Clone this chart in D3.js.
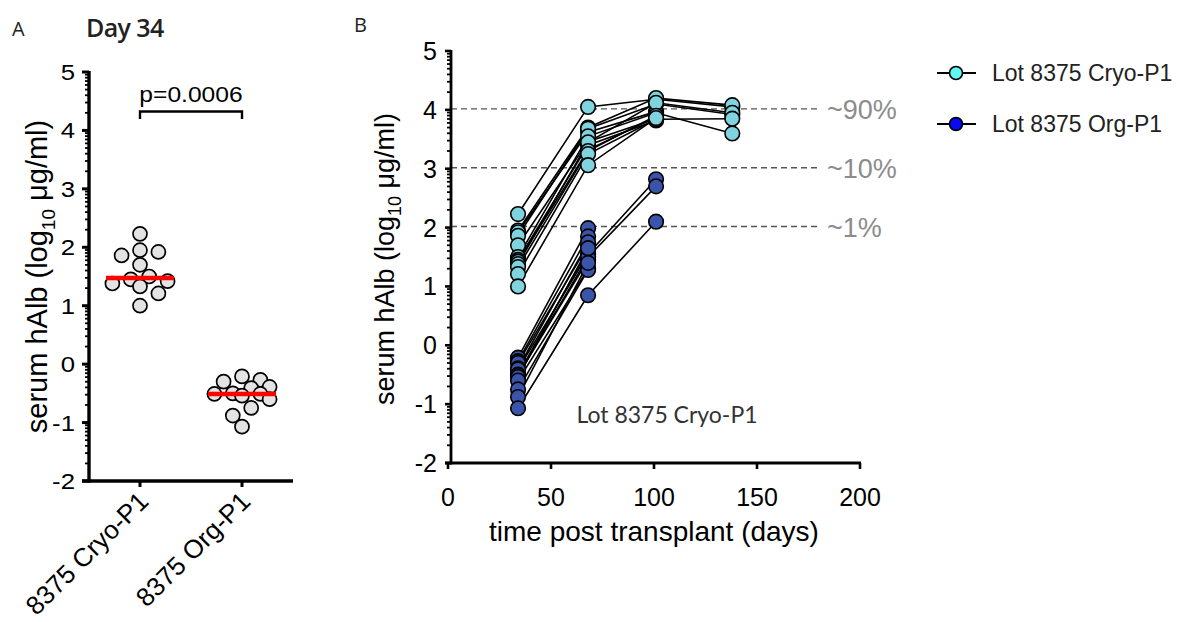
<!DOCTYPE html>
<html><head><meta charset="utf-8">
<script src="https://cdn.jsdelivr.net/npm/d3@7"></script>
<style>body{margin:0;background:#fff}</style>
</head><body><svg id="c" width="1178" height="622"></svg>
<script>
// ---------- data ----------
const groupsA = ["8375 Cryo-P1", "8375 Org-P1"];
const cryoDay34 = [2.23, 1.95, 1.92, 1.86, 1.70, 1.50, 1.45, 1.42, 1.38, 1.33, 1.21, 1.00];
const orgDay34 = [-0.21, -0.27, -0.30, -0.39, -0.41, -0.50, -0.51, -0.51, -0.54, -0.60, -0.75, -0.88, -1.07];
const pLabel = "p=0.0006";
const yTicks = [-2, -1, 0, 1, 2, 3, 4, 5];

const days = [34, 68, 101, 138];
// each row = one mouse, values at days (null = not measured)
const cryoMice = [
  [2.23, 4.05, 4.18, 4.05],
  [1.95, 3.70, 4.20, 4.08],
  [1.92, 3.62, 3.97, null],
  [1.86, 3.68, 4.10, 3.92],
  [1.70, 3.46, 3.85, null],
  [1.50, 3.55, 3.95, 3.60],
  [1.45, 3.40, 3.82, null],
  [1.42, 3.32, 3.88, null],
  [1.38, 3.45, 4.12, 3.95],
  [1.33, 3.30, 3.90, null],
  [1.21, 3.25, 3.84, 3.85],
  [1.00, 3.06, 3.86, null]
];
const orgMice = [
  [-0.21, 1.99, null],
  [-0.27, 1.85, null],
  [-0.30, 1.70, null],
  [-0.39, 1.75, null],
  [-0.41, 1.55, 2.82],
  [-0.50, 1.62, null],
  [-0.51, 1.45, null],
  [-0.51, 1.50, 2.70],
  [-0.54, 1.65, null],
  [-0.60, 1.30, null],
  [-0.75, 1.28, null],
  [-0.88, 1.40, null],
  [-1.07, 0.85, 2.10]
];
const xTicksB = [0, 50, 100, 150, 200];
const thresholds = [4, 3, 2];
const thresholdLabels = ["~90%", "~10%", "~1%"];
const legendLabels = ["Lot 8375 Cryo-P1", "Lot 8375 Org-P1"];

// ---------- drawing ----------
const svg = d3.select("#c");
const ARIAL = "'Liberation Sans', Arial, sans-serif";
const MYR = "'Open Sans', Lato, sans-serif";
const SX = 1.12; // horizontal stretch in panel A

function stretched(g, x, y, txt, size, anchor) {
  return g.append("text").attr("transform", `translate(${x},${y}) scale(${SX},1)`)
    .attr("font-family", ARIAL).attr("font-size", size).attr("text-anchor", anchor || "start").text(txt);
}

// Panel labels
svg.append("text").attr("x", 12).attr("y", 36).attr("font-family", MYR).attr("font-size", 20).attr("fill", "#222").text("A");
svg.append("text").attr("x", 354).attr("y", 32).attr("font-family", MYR).attr("font-size", 20).attr("fill", "#222").text("B");
svg.append("text").attr("x", 86).attr("y", 37).attr("font-family", MYR).attr("font-weight", 600).attr("font-size", 25)
  .attr("letter-spacing", -0.6).attr("fill", "#222").text("Day 34");

// ===== Panel A =====
const gA = svg.append("g");
const yA = d3.scaleLinear().domain([-2, 5]).range([481, 72]);
const xA = d3.scalePoint().domain(groupsA).range([89, 293]).padding(0.5);

function minorTicks(g, y, x0, len) {
  const m = [];
  for (let d = -2; d < 5; d++) for (let k = 2; k <= 9; k++) m.push(d + Math.log10(k));
  g.selectAll(null).data(m).enter().append("line")
    .attr("x1", x0 - len).attr("x2", x0).attr("y1", d => y(d)).attr("y2", d => y(d))
    .attr("stroke", "#000").attr("stroke-width", 1.8);
}
minorTicks(gA, yA, 89, 4);
gA.selectAll(null).data(yTicks).enter().append("line")
  .attr("x1", 82).attr("x2", 89).attr("y1", d => yA(d)).attr("y2", d => yA(d))
  .attr("stroke", "#000").attr("stroke-width", 3);
yTicks.forEach(v => stretched(gA, 75, yA(v) + 8, String(v), 23, "end"));
gA.append("line").attr("x1", 89).attr("x2", 89).attr("y1", yA(5) - 1).attr("y2", yA(-2) + 1.5).attr("stroke", "#000").attr("stroke-width", 3.4);
gA.append("line").attr("x1", 82).attr("x2", 293).attr("y1", yA(-2)).attr("y2", yA(-2)).attr("stroke", "#000").attr("stroke-width", 3.4);
gA.selectAll(null).data(groupsA).enter().append("line")
  .attr("x1", d => xA(d)).attr("x2", d => xA(d)).attr("y1", yA(-2)).attr("y2", yA(-2) + 6)
  .attr("stroke", "#000").attr("stroke-width", 3);
groupsA.forEach(gname => {
  gA.append("text").attr("transform", `translate(${xA(gname) + 10},${yA(-2) + 22}) rotate(-45)`)
    .attr("font-family", ARIAL).attr("font-size", 26).attr("text-anchor", "end").text(gname);
});
// y title A
const tA = gA.append("text").attr("transform", `translate(47,${(yA(5) + yA(-2)) / 2}) rotate(-90)`)
  .attr("font-family", ARIAL).attr("font-size", 29).attr("text-anchor", "middle");
tA.append("tspan").text("serum hAlb (log");
tA.append("tspan").attr("font-size", 19).attr("dy", 8).text("10");
tA.append("tspan").attr("dy", -8).text(" μg/ml)");

// swarm: place each point at the nearest free slot, limited width
function swarm(vals, cx, step, maxK, minD) {
  const pts = vals.map(v => ({ v, y: yA(v) })).sort((a, b) => a.y - b.y);
  const placed = [];
  pts.forEach(p => {
    const cands = [0];
    for (let k = 1; k <= maxK; k++) cands.push(k * step, -k * step);
    let best = null, bestD = -1;
    for (const c of cands) {
      const dmin = placed.length ? d3.min(placed, q => Math.hypot(q.x - (cx + c), q.y - p.y)) : Infinity;
      if (dmin >= minD) { best = c; break; }
      if (dmin > bestD) { bestD = dmin; best = c; }
    }
    p.x = cx + best;
    placed.push(p);
  });
  return placed;
}
function median(a) { const s = [...a].sort((x, y) => x - y); const n = s.length; return n % 2 ? s[(n - 1) / 2] : (s[n / 2 - 1] + s[n / 2]) / 2; }
[[groupsA[0], cryoDay34], [groupsA[1], orgDay34]].forEach(([gname, vals]) => {
  const pts = swarm(vals, xA(gname), 9.2, 3, 12.5);
  gA.selectAll(null).data(pts).enter().append("circle")
    .attr("cx", d => d.x).attr("cy", d => d.y).attr("r", 7)
    .attr("fill", "#e3e3e3").attr("stroke", "#000").attr("stroke-width", 1.7);
  const m = median(vals);
  gA.append("line").attr("x1", xA(gname) - 34).attr("x2", xA(gname) + 34).attr("y1", yA(m)).attr("y2", yA(m))
    .attr("stroke", "#ff0000").attr("stroke-width", 4.5);
});
// p-value bracket
gA.append("path").attr("d", `M${xA(groupsA[0])},${119} V111.5 H${xA(groupsA[1])} V119`)
  .attr("fill", "none").attr("stroke", "#000").attr("stroke-width", 2.4);
stretched(gA, (xA(groupsA[0]) + xA(groupsA[1])) / 2, 102, pLabel, 22, "middle");

// ===== Panel B =====
const gB = svg.append("g");
const xB = d3.scaleLinear().domain([0, 200]).range([448, 860]);
const yB = d3.scaleLinear().domain([-2, 5]).range([463, 51]);

// thresholds
thresholds.forEach((t, i) => {
  gB.append("line").attr("x1", 451).attr("x2", 818).attr("y1", yB(t) - 1).attr("y2", yB(t) - 1)
    .attr("stroke", "#555").attr("stroke-width", 1.4).attr("stroke-dasharray", "6,4");
  gB.append("text").attr("x", 827).attr("y", yB(t) + 9).attr("font-family", ARIAL).attr("font-size", 27)
    .attr("fill", "#8c8c8c").text(thresholdLabels[i]);
});

minorTicks(gB, yB, 451, 4);
gB.selectAll(null).data(yTicks).enter().append("line")
  .attr("x1", 445).attr("x2", 451).attr("y1", d => yB(d)).attr("y2", d => yB(d))
  .attr("stroke", "#000").attr("stroke-width", 2.6);
gB.selectAll(null).data(yTicks).enter().append("text")
  .attr("x", 437).attr("y", d => yB(d) + 9).attr("font-family", ARIAL).attr("font-size", 25)
  .attr("text-anchor", "end").text(d => d);
gB.append("line").attr("x1", 451).attr("x2", 451).attr("y1", yB(5) - 1).attr("y2", yB(-2) + 1.5).attr("stroke", "#000").attr("stroke-width", 2.8);
gB.append("line").attr("x1", 445).attr("x2", 861).attr("y1", yB(-2)).attr("y2", yB(-2)).attr("stroke", "#000").attr("stroke-width", 2.8);
gB.selectAll(null).data(xTicksB).enter().append("line")
  .attr("x1", d => xB(d)).attr("x2", d => xB(d)).attr("y1", yB(-2)).attr("y2", yB(-2) + 6)
  .attr("stroke", "#000").attr("stroke-width", 2.6);
gB.selectAll(null).data(xTicksB).enter().append("text")
  .attr("x", d => xB(d)).attr("y", 506).attr("font-family", ARIAL).attr("font-size", 25)
  .attr("text-anchor", "middle").text(d => d);
gB.append("text").attr("x", 654).attr("y", 541).attr("font-family", ARIAL).attr("font-size", 28)
  .attr("text-anchor", "middle").text("time post transplant (days)");
const tB = gB.append("text").attr("transform", `translate(394,${(yB(5) + yB(-2)) / 2 + 2}) rotate(-90)`)
  .attr("font-family", ARIAL).attr("font-size", 27).attr("text-anchor", "middle");
tB.append("tspan").text("serum hAlb (log");
tB.append("tspan").attr("font-size", 18).attr("dy", 7).text("10");
tB.append("tspan").attr("dy", -7).text(" μg/ml)");

gB.append("text").attr("x", 667).attr("y", 423).attr("font-family", "Lato, 'Open Sans', sans-serif").attr("font-size", 23)
  .attr("fill", "#333").attr("text-anchor", "middle").text("Lot 8375 Cryo-P1");

const line = d3.line().x(d => xB(d[0])).y(d => yB(d[1]));
function mousePts(row) { return row.map((v, i) => [days[i], v]).filter(d => d[1] != null); }
[cryoMice, orgMice].forEach(set => set.forEach(row => {
  gB.append("path").attr("d", line(mousePts(row))).attr("fill", "none").attr("stroke", "#000").attr("stroke-width", 1.6);
}));
[[cryoMice, "#7fd4df"], [orgMice, "#3a54aa"]].forEach(([set, col]) => {
  const pts = set.flatMap(mousePts);
  gB.selectAll(null).data(pts).enter().append("circle")
    .attr("cx", d => xB(d[0])).attr("cy", d => yB(d[1])).attr("r", 7.3)
    .attr("fill", col).attr("stroke", "#000").attr("stroke-width", 1.6);
});

// legend
const legCols = ["#5ef8f4", "#0a0af2"];
legendLabels.forEach((lab, i) => {
  const y = 73 + i * 51;
  svg.append("line").attr("x1", 937).attr("x2", 976).attr("y1", y).attr("y2", y).attr("stroke", "#000").attr("stroke-width", 1.8);
  svg.append("circle").attr("cx", 956).attr("cy", y).attr("r", 6.5).attr("fill", legCols[i]).attr("stroke", "#000").attr("stroke-width", 1.6);
  svg.append("text").attr("x", 992).attr("y", y + 8).attr("font-family", ARIAL).attr("font-size", 23)
    .attr("fill", "#222").text(lab);
});
</script></body></html>
